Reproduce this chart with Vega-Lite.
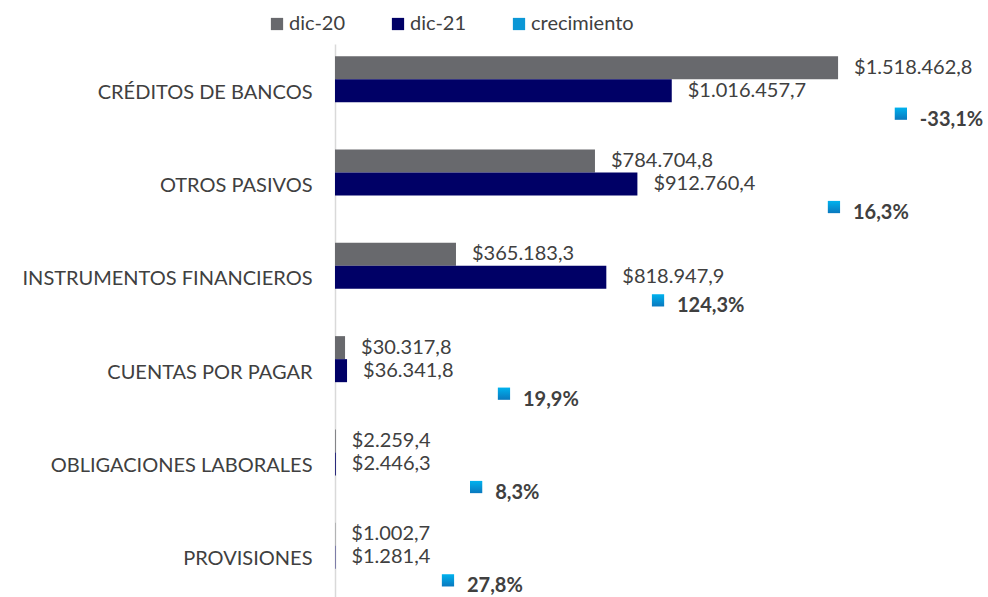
{
  "$schema": "https://vega.github.io/schema/vega-lite/v6.json",
  "width": 653,
  "height": 553,
  "autosize": {"type": "none"},
  "padding": {"left": 335, "top": 44, "right": 0, "bottom": 0},
  "background": "white",
  "config": {
    "view": {"stroke": null},
    "font": "Lato",
    "locale": {"number": {"decimal": ",", "thousands": ".", "grouping": [3], "currency": ["$", ""], "minus": "-"}}
  },
  "datasets": {
    "saldos": [
      {"cuenta": "CRÉDITOS DE BANCOS", "serie": "dic-20", "valor": 1518462.8},
      {"cuenta": "CRÉDITOS DE BANCOS", "serie": "dic-21", "valor": 1016457.7},
      {"cuenta": "OTROS PASIVOS", "serie": "dic-20", "valor": 784704.8},
      {"cuenta": "OTROS PASIVOS", "serie": "dic-21", "valor": 912760.4},
      {"cuenta": "INSTRUMENTOS FINANCIEROS", "serie": "dic-20", "valor": 365183.3},
      {"cuenta": "INSTRUMENTOS FINANCIEROS", "serie": "dic-21", "valor": 818947.9},
      {"cuenta": "CUENTAS POR PAGAR", "serie": "dic-20", "valor": 30317.8},
      {"cuenta": "CUENTAS POR PAGAR", "serie": "dic-21", "valor": 36341.8},
      {"cuenta": "OBLIGACIONES LABORALES", "serie": "dic-20", "valor": 2259.4},
      {"cuenta": "OBLIGACIONES LABORALES", "serie": "dic-21", "valor": 2446.3},
      {"cuenta": "PROVISIONES", "serie": "dic-20", "valor": 1002.7},
      {"cuenta": "PROVISIONES", "serie": "dic-21", "valor": 1281.4}
    ],
    "crecimiento": [
      {"cuenta": "CRÉDITOS DE BANCOS", "serie": "crecimiento", "tasa": -0.331, "ancla": 1708000},
      {"cuenta": "OTROS PASIVOS", "serie": "crecimiento", "tasa": 0.163, "ancla": 1506000},
      {"cuenta": "INSTRUMENTOS FINANCIEROS", "serie": "crecimiento", "tasa": 1.243, "ancla": 975000},
      {"cuenta": "CUENTAS POR PAGAR", "serie": "crecimiento", "tasa": 0.199, "ancla": 510000},
      {"cuenta": "OBLIGACIONES LABORALES", "serie": "crecimiento", "tasa": 0.083, "ancla": 426000},
      {"cuenta": "PROVISIONES", "serie": "crecimiento", "tasa": 0.278, "ancla": 341000}
    ]
  },
  "encoding": {
    "y": {
      "field": "cuenta",
      "type": "nominal",
      "sort": ["CRÉDITOS DE BANCOS", "OTROS PASIVOS", "INSTRUMENTOS FINANCIEROS", "CUENTAS POR PAGAR", "OBLIGACIONES LABORALES", "PROVISIONES"],
      "scale": {"range": [0, 560], "paddingInner": 0.26, "paddingOuter": 0.13},
      "axis": {
        "title": null,
        "ticks": false,
        "domainColor": "#D9D9D9",
        "domainWidth": 1.5,
        "labelFontSize": 20,
        "labelColor": "#404040",
        "labelPadding": 23,
        "labelFont": "Lato",
        "labelLimit": 400,
        "labelOffset": 2,
        "labelExpr": "datum.value == 'CRÉDITOS DE BANCOS' || datum.value == 'INSTRUMENTOS FINANCIEROS' ? datum.value + '\u00a0\u00a0' : datum.value"
      }
    },
    "yOffset": {
      "field": "serie",
      "type": "nominal",
      "scale": {"domain": ["dic-20", "dic-21", "crecimiento"], "paddingInner": 0, "paddingOuter": 0}
    }
  },
  "layer": [
    {
      "data": {"name": "saldos"},
      "mark": {"type": "bar", "orient": "horizontal"},
      "encoding": {
        "x": {"field": "valor", "type": "quantitative", "scale": {"domain": [0, 1971000], "nice": false}, "axis": null},
        "color": {
          "field": "serie",
          "type": "nominal",
          "scale": {"domain": ["dic-20", "dic-21", "crecimiento"], "range": ["#68696D", "#000066", "#0B97D6"]},
          "legend": {
            "title": null,
            "orient": "none",
            "direction": "horizontal",
            "legendX": -68,
            "legendY": -30,
            "symbolType": "square",
            "symbolSize": 150,
            "symbolStrokeWidth": 0,
            "labelFontSize": 20,
            "labelColor": "#404040",
            "labelFont": "Lato",
            "labelOffset": 2,
            "columnPadding": 42
          }
        }
      }
    },
    {
      "data": {"name": "saldos"},
      "mark": {"type": "text", "align": "left", "baseline": "middle", "dx": 16, "fontSize": 20, "color": "#404040", "font": "Lato"},
      "encoding": {
        "x": {"field": "valor", "type": "quantitative"},
        "text": {"field": "valor", "type": "quantitative", "format": "$,.1f"}
      }
    },
    {
      "data": {"name": "crecimiento"},
      "mark": {
        "type": "point",
        "shape": "square",
        "size": 150,
        "filled": true,
        "opacity": 1,
        "dy": 6,
        "color": {"gradient": "linear", "x1": 0, "y1": 0, "x2": 0, "y2": 1, "stops": [{"offset": 0, "color": "#00B2EE"}, {"offset": 1, "color": "#0A78BE"}]}
      },
      "encoding": {
        "x": {"field": "ancla", "type": "quantitative"},
        "yOffset": {"field": "serie", "type": "nominal"}
      }
    },
    {
      "data": {"name": "crecimiento"},
      "mark": {"type": "text", "align": "left", "baseline": "middle", "dx": 19, "dy": 6, "fontSize": 20, "fontWeight": "bold", "color": "#404040", "font": "Lato"},
      "encoding": {
        "x": {"field": "ancla", "type": "quantitative"},
        "yOffset": {"field": "serie", "type": "nominal"},
        "text": {"field": "tasa", "type": "quantitative", "format": ".1%"}
      }
    }
  ]
}
